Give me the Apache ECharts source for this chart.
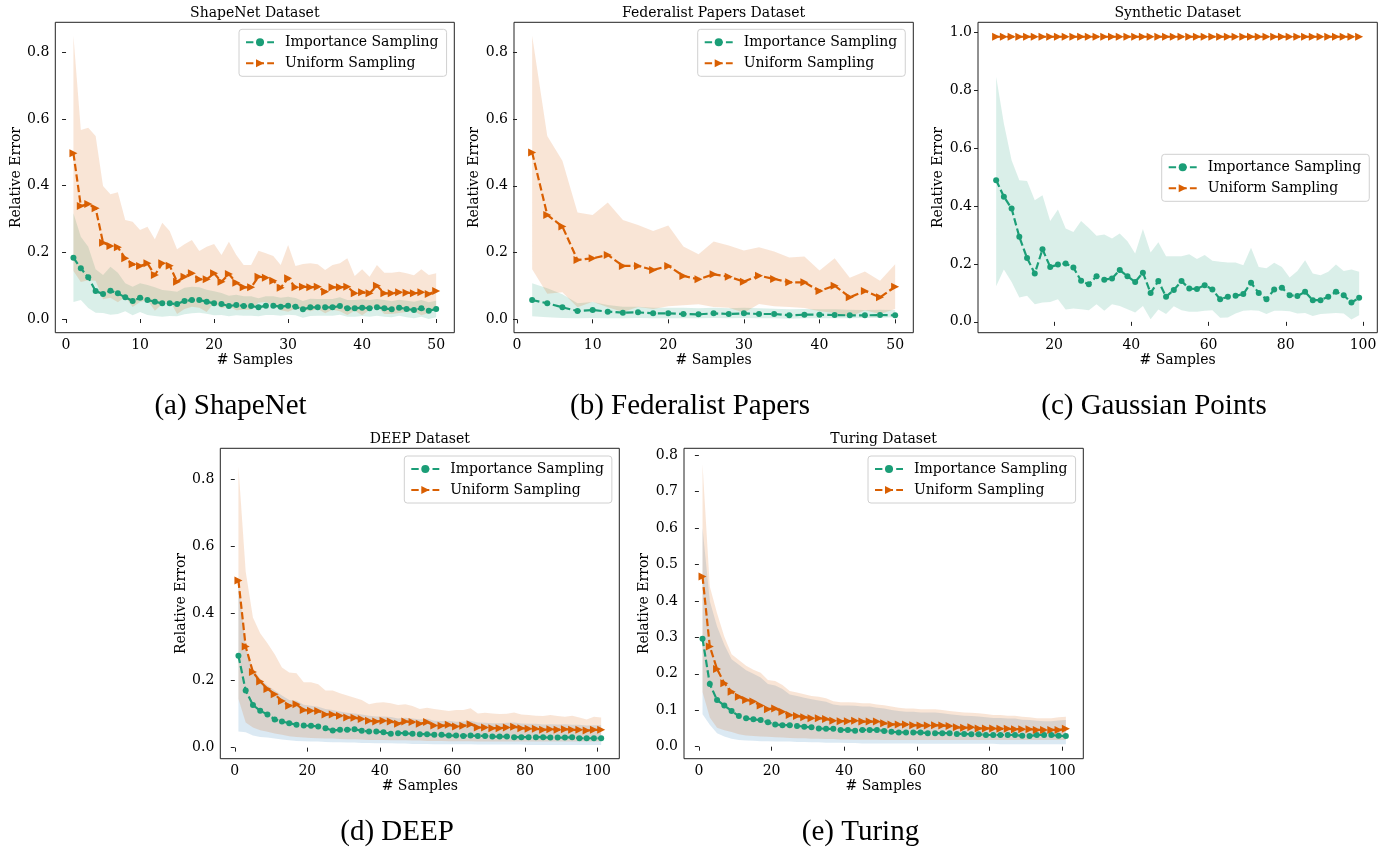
<!DOCTYPE html>
<html>
<head>
<meta charset="utf-8">
<script src="https://cdn.jsdelivr.net/npm/echarts@6/dist/echarts.min.js"></script>
<style>
html,body{margin:0;padding:0;background:#fff;}
#c{width:1392px;height:851px;}
</style>
</head>
<body>
<div id="c"></div>
<script>
// ---------------- DATA ----------------
// (a) ShapeNet
const aX = [1,2,3,4,5,6,7,8,9,10,11,12,13,14,15,16,17,18,19,20,21,22,23,24,25,26,27,28,29,30,31,32,33,34,35,36,37,38,39,40,41,42,43,44,45,46,47,48,49,50];
const aImp = [0.184,0.152,0.125,0.084,0.075,0.085,0.077,0.065,0.054,0.064,0.057,0.052,0.047,0.047,0.045,0.054,0.057,0.057,0.052,0.047,0.045,0.039,0.042,0.039,0.039,0.035,0.04,0.04,0.037,0.04,0.037,0.029,0.035,0.035,0.035,0.035,0.039,0.032,0.032,0.034,0.032,0.035,0.032,0.029,0.034,0.03,0.027,0.032,0.025,0.03];
const aImpLo = [0.051,0.057,0.033,0.019,0.018,0.013,0.015,0.023,0.011,0.021,0.012,0.009,0.007,0.009,0.008,0.014,0.017,0.019,0.016,0.011,0.012,0.008,0.011,0.01,0.01,0.008,0.012,0.012,0.01,0.013,0.011,0.004,0.009,0.01,0.01,0.01,0.013,0.007,0.007,0.009,0.007,0.01,0.007,0.005,0.01,0.005,0.002,0.007,0.0,0.005];
const aImpHi = [0.317,0.247,0.217,0.149,0.132,0.157,0.139,0.107,0.097,0.107,0.102,0.095,0.087,0.085,0.082,0.094,0.097,0.095,0.088,0.083,0.078,0.07,0.073,0.068,0.068,0.062,0.068,0.068,0.064,0.067,0.063,0.054,0.061,0.06,0.06,0.06,0.065,0.057,0.057,0.059,0.057,0.06,0.057,0.053,0.058,0.055,0.052,0.057,0.05,0.055];
const aUni = [0.497,0.339,0.345,0.332,0.229,0.219,0.215,0.182,0.164,0.159,0.167,0.132,0.167,0.16,0.112,0.127,0.137,0.119,0.119,0.137,0.112,0.135,0.109,0.095,0.095,0.127,0.124,0.115,0.094,0.122,0.095,0.097,0.095,0.097,0.082,0.095,0.095,0.097,0.077,0.08,0.077,0.1,0.077,0.077,0.08,0.079,0.077,0.08,0.075,0.084];
const aUniLo = [0.144,0.111,0.116,0.115,0.059,0.064,0.05,0.067,0.036,0.051,0.057,0.025,0.045,0.056,0.015,0.03,0.037,0.034,0.021,0.049,0.032,0.038,0.026,0.028,0.028,0.049,0.051,0.041,0.026,0.022,0.031,0.029,0.023,0.03,0.017,0.028,0.023,0.012,0.025,0.011,0.027,0.038,0.015,0.015,0.018,0.021,0.023,0.011,0.018,0.031];
const aUniHi = [0.85,0.567,0.574,0.549,0.399,0.374,0.38,0.297,0.292,0.267,0.277,0.239,0.289,0.264,0.209,0.224,0.237,0.204,0.217,0.225,0.192,0.232,0.192,0.162,0.162,0.205,0.197,0.189,0.162,0.222,0.159,0.165,0.167,0.164,0.147,0.162,0.167,0.182,0.129,0.149,0.127,0.162,0.139,0.139,0.142,0.137,0.131,0.149,0.132,0.137];

// (b) Federalist Papers
const bX = [2,4,6,8,10,12,14,16,18,20,22,24,26,28,30,32,34,36,38,40,42,44,46,48,50];
const bImp = [0.058,0.048,0.036,0.025,0.028,0.023,0.02,0.021,0.018,0.018,0.016,0.015,0.018,0.016,0.018,0.016,0.016,0.012,0.014,0.014,0.013,0.012,0.012,0.013,0.012];
const bImpLo = [0.009,0.006,0.004,0.003,0.004,0.003,0.003,0.004,0.003,0.003,0.003,0.003,0.004,0.003,0.004,0.003,0.003,0.002,0.003,0.003,0.003,0.003,0.004,0.005,0.006];
const bImpHi = [0.108,0.093,0.075,0.048,0.052,0.043,0.038,0.038,0.035,0.035,0.035,0.033,0.035,0.033,0.035,0.033,0.032,0.03,0.031,0.03,0.03,0.029,0.028,0.029,0.028];
const bUni = [0.5,0.313,0.278,0.178,0.183,0.193,0.16,0.16,0.148,0.16,0.13,0.12,0.135,0.128,0.113,0.131,0.121,0.111,0.111,0.085,0.101,0.066,0.085,0.066,0.098];
const bUniLo = [0.15,0.077,0.081,0.036,0.053,0.036,0.022,0.037,0.031,0.039,0.042,0.045,0.037,0.035,0.02,0.046,0.039,0.037,0.034,0.024,0.019,0.007,0.027,0.016,0.031];
const bUniHi = [0.85,0.549,0.475,0.32,0.313,0.35,0.298,0.283,0.265,0.281,0.218,0.195,0.233,0.221,0.206,0.216,0.203,0.185,0.188,0.146,0.183,0.125,0.143,0.116,0.165];

// (c) Synthetic / Gaussian Points
const cX = [5,7,9,11,13,15,17,19,21,23,25,27,29,31,33,35,37,39,41,43,45,47,49,51,53,55,57,59,61,63,65,67,69,71,73,75,77,79,81,83,85,87,89,91,93,95,97,99];
const cImp = [0.49,0.433,0.392,0.294,0.221,0.167,0.251,0.19,0.198,0.202,0.188,0.142,0.13,0.158,0.146,0.15,0.179,0.158,0.138,0.17,0.1,0.141,0.087,0.11,0.141,0.115,0.114,0.127,0.112,0.078,0.087,0.09,0.096,0.135,0.1,0.078,0.112,0.118,0.092,0.089,0.104,0.075,0.075,0.087,0.104,0.092,0.067,0.083];
const cImpLo = [0.123,0.181,0.138,0.084,0.09,0.061,0.067,0.069,0.078,0.043,0.046,0.044,0.04,0.061,0.038,0.061,0.055,0.044,0.032,0.055,0.009,0.043,0.027,0.054,0.04,0.035,0.035,0.038,0.04,0.014,0.015,0.029,0.038,0.04,0.038,0.027,0.038,0.038,0.037,0.029,0.031,0.02,0.027,0.029,0.031,0.029,0.008,0.023];
const cImpHi = [0.848,0.686,0.559,0.49,0.487,0.421,0.438,0.349,0.389,0.323,0.311,0.349,0.325,0.298,0.302,0.288,0.306,0.279,0.236,0.321,0.24,0.275,0.227,0.227,0.227,0.234,0.217,0.231,0.211,0.208,0.205,0.205,0.196,0.256,0.19,0.185,0.204,0.19,0.153,0.176,0.213,0.167,0.161,0.173,0.198,0.176,0.181,0.173];
const cUni = [0.986,0.986,0.986,0.986,0.986,0.986,0.986,0.986,0.986,0.986,0.986,0.986,0.986,0.986,0.986,0.986,0.986,0.986,0.986,0.986,0.986,0.986,0.986,0.986,0.986,0.986,0.986,0.986,0.986,0.986,0.986,0.986,0.986,0.986,0.986,0.986,0.986,0.986,0.986,0.986,0.986,0.986,0.986,0.986,0.986,0.986,0.986,0.986];

// (d) DEEP
const dX = [1,3,5,7,9,11,13,15,17,19,21,23,25,27,29,31,33,35,37,39,41,43,45,47,49,51,53,55,57,59,61,63,65,67,69,71,73,75,77,79,81,83,85,87,89,91,93,95,97,99,101];
const dImp = [0.274,0.17,0.127,0.11,0.099,0.084,0.078,0.073,0.068,0.066,0.065,0.063,0.058,0.051,0.053,0.053,0.055,0.05,0.048,0.048,0.046,0.041,0.043,0.043,0.041,0.04,0.04,0.038,0.038,0.036,0.036,0.035,0.036,0.035,0.035,0.033,0.033,0.033,0.031,0.031,0.031,0.031,0.031,0.03,0.03,0.03,0.031,0.028,0.028,0.028,0.028];
const dImpLo = [0.048,0.046,0.036,0.032,0.03,0.027,0.024,0.022,0.02,0.019,0.018,0.018,0.017,0.016,0.016,0.015,0.015,0.014,0.014,0.013,0.013,0.013,0.012,0.012,0.011,0.011,0.011,0.01,0.01,0.01,0.01,0.01,0.01,0.009,0.009,0.009,0.009,0.009,0.009,0.009,0.008,0.008,0.008,0.008,0.008,0.008,0.008,0.008,0.008,0.008,0.008];
const dImpHi = [0.5,0.3,0.235,0.205,0.185,0.17,0.155,0.142,0.14,0.128,0.125,0.122,0.115,0.112,0.108,0.104,0.102,0.099,0.095,0.093,0.093,0.091,0.087,0.089,0.087,0.084,0.086,0.08,0.079,0.08,0.077,0.078,0.08,0.075,0.074,0.073,0.073,0.074,0.075,0.072,0.071,0.071,0.069,0.07,0.069,0.07,0.068,0.068,0.066,0.067,0.067];
const dUni = [0.498,0.301,0.225,0.197,0.175,0.159,0.139,0.125,0.129,0.112,0.11,0.109,0.099,0.099,0.095,0.09,0.089,0.085,0.08,0.078,0.08,0.078,0.071,0.078,0.076,0.071,0.076,0.066,0.065,0.068,0.063,0.065,0.07,0.06,0.06,0.058,0.058,0.06,0.062,0.058,0.056,0.056,0.053,0.055,0.053,0.055,0.053,0.053,0.051,0.053,0.053];
const dUniLo = [0.145,0.075,0.06,0.052,0.047,0.042,0.038,0.034,0.032,0.03,0.029,0.028,0.027,0.027,0.026,0.025,0.025,0.024,0.023,0.023,0.023,0.022,0.022,0.022,0.021,0.021,0.02,0.02,0.02,0.019,0.019,0.019,0.019,0.018,0.018,0.018,0.018,0.018,0.018,0.018,0.018,0.018,0.018,0.018,0.018,0.018,0.018,0.018,0.018,0.018,0.018];
const dUniHi = [0.838,0.525,0.388,0.341,0.311,0.278,0.239,0.224,0.222,0.195,0.195,0.189,0.17,0.17,0.162,0.155,0.149,0.142,0.129,0.134,0.135,0.132,0.127,0.129,0.124,0.115,0.119,0.115,0.112,0.109,0.112,0.112,0.117,0.102,0.104,0.102,0.1,0.101,0.105,0.099,0.097,0.095,0.094,0.097,0.094,0.092,0.095,0.09,0.084,0.092,0.09];

// (e) Turing
const eX = [1,3,5,7,9,11,13,15,17,19,21,23,25,27,29,31,33,35,37,39,41,43,45,47,49,51,53,55,57,59,61,63,65,67,69,71,73,75,77,79,81,83,85,87,89,91,93,95,97,99,101];
const eImp = [0.296,0.172,0.128,0.113,0.098,0.084,0.078,0.075,0.073,0.067,0.061,0.059,0.059,0.057,0.055,0.053,0.05,0.049,0.049,0.046,0.046,0.044,0.046,0.046,0.046,0.043,0.041,0.039,0.039,0.039,0.039,0.037,0.037,0.037,0.037,0.035,0.035,0.034,0.034,0.032,0.032,0.032,0.032,0.032,0.03,0.029,0.032,0.032,0.032,0.03,0.029];
const eImpLo = [0.089,0.06,0.037,0.028,0.022,0.018,0.017,0.016,0.015,0.015,0.014,0.014,0.014,0.013,0.013,0.012,0.012,0.011,0.011,0.011,0.01,0.01,0.009,0.009,0.009,0.009,0.009,0.009,0.009,0.009,0.008,0.008,0.008,0.008,0.008,0.008,0.008,0.008,0.008,0.008,0.008,0.007,0.007,0.007,0.007,0.007,0.007,0.007,0.007,0.007,0.007];
const eImpHi = [0.6,0.4,0.33,0.28,0.24,0.225,0.21,0.2,0.19,0.172,0.168,0.158,0.143,0.139,0.134,0.13,0.127,0.123,0.116,0.113,0.113,0.112,0.11,0.11,0.107,0.105,0.101,0.098,0.096,0.096,0.094,0.094,0.094,0.092,0.089,0.087,0.085,0.084,0.083,0.081,0.079,0.079,0.077,0.077,0.074,0.073,0.071,0.07,0.07,0.072,0.073];
const eUni = [0.467,0.275,0.213,0.174,0.151,0.137,0.128,0.124,0.113,0.103,0.105,0.096,0.087,0.084,0.081,0.078,0.078,0.076,0.071,0.07,0.07,0.071,0.069,0.069,0.069,0.064,0.061,0.061,0.061,0.059,0.058,0.058,0.059,0.058,0.057,0.053,0.052,0.053,0.05,0.05,0.05,0.049,0.049,0.048,0.048,0.048,0.046,0.046,0.046,0.046,0.049];
const eUniLo = [0.15,0.08,0.052,0.045,0.04,0.034,0.031,0.029,0.028,0.027,0.026,0.025,0.024,0.023,0.023,0.022,0.022,0.021,0.021,0.02,0.02,0.019,0.019,0.019,0.019,0.018,0.018,0.018,0.018,0.018,0.018,0.018,0.018,0.018,0.018,0.018,0.018,0.018,0.018,0.018,0.018,0.018,0.018,0.018,0.018,0.018,0.018,0.018,0.018,0.018,0.018];
const eUniHi = [0.775,0.44,0.366,0.302,0.254,0.238,0.222,0.211,0.203,0.183,0.18,0.169,0.153,0.149,0.144,0.139,0.137,0.133,0.125,0.122,0.122,0.121,0.119,0.119,0.116,0.114,0.11,0.107,0.105,0.105,0.103,0.103,0.103,0.101,0.098,0.096,0.094,0.093,0.092,0.09,0.087,0.087,0.085,0.085,0.082,0.081,0.078,0.078,0.078,0.081,0.082];

// tick labels
const xTicks50 = [0,10,20,30,40,50];
const xTicks100 = [0,20,40,60,80,100];
const xTicksC = [20,40,60,80,100];
const yTicks08 = [0.0,0.2,0.4,0.6,0.8];
const yTicks10 = [0.0,0.2,0.4,0.6,0.8,1.0];
const yTicksE = [0.0,0.1,0.2,0.3,0.4,0.5,0.6,0.7,0.8];

const titles = ['ShapeNet Dataset','Federalist Papers Dataset','Synthetic Dataset','DEEP Dataset','Turing Dataset'];
const captions = ['(a) ShapeNet','(b) Federalist Papers','(c) Gaussian Points','(d) DEEP','(e) Turing'];
const seriesNames = ['Importance Sampling','Uniform Sampling'];
const xName = '# Samples';
const yName = 'Relative Error';

// ---------------- LAYOUT / STYLE ----------------
const GREEN = '#1b9e77', ORANGE = '#d95f02', BLUE = '#1f77b4';
const FONT = 'DejaVu Serif';
const CAPFONT = 'Liberation Serif';

const panels = [
  {x:aX, imp:aImp, impLo:aImpLo, impHi:aImpHi, uni:aUni, uniLo:aUniLo, uniHi:aUniHi, impFill:GREEN,
   grid:{left:55.3, top:22.3, w:399, h:310.4}, xr:[-1.45,52.45], yr:[-0.041,0.89], xt:xTicks50, yt:yTicks08,
   leg:{left:239, top:29.3}, cap:[230.5,406]},
  {x:bX, imp:bImp, impLo:bImpLo, impHi:bImpHi, uni:bUni, uniLo:bUniLo, uniHi:bUniHi, impFill:GREEN,
   grid:{left:514, top:22.3, w:399.3, h:310.4}, xr:[-0.4,52.4], yr:[-0.04,0.89], xt:xTicks50, yt:yTicks08,
   leg:{left:697.7, top:29.3}, cap:[690,406]},
  {x:cX, imp:cImp, impLo:cImpLo, impHi:cImpHi, uni:cUni, uniLo:null, uniHi:null, impFill:GREEN,
   grid:{left:978, top:22.3, w:399.3, h:310.4}, xr:[0.3,103.7], yr:[-0.0375,1.036], xt:xTicksC, yt:yTicks10,
   leg:{left:1161.7, top:154.3}, cap:[1154,406]},
  {x:dX, imp:dImp, impLo:dImpLo, impHi:dImpHi, uni:dUni, uniLo:dUniLo, uniHi:dUniHi, impFill:BLUE,
   grid:{left:220.3, top:448.3, w:399, h:310.4}, xr:[-4,106], yr:[-0.033,0.892], xt:xTicks100, yt:yTicks08,
   leg:{left:404.3, top:456}, cap:[397,832]},
  {x:eX, imp:eImp, impLo:eImpLo, impHi:eImpHi, uni:eUni, uniLo:eUniLo, uniHi:eUniHi, impFill:BLUE,
   grid:{left:684, top:448.3, w:399.3, h:310.4}, xr:[-4.1,105.8], yr:[-0.033,0.819], xt:xTicks100, yt:yTicksE,
   leg:{left:868, top:456}, cap:[860.5,832]}
];

const grids = [], xAxes = [], yAxes = [], series = [], legends = [], graphics = [];

panels.forEach((p, i) => {
  grids.push({left:p.grid.left, top:p.grid.top, width:p.grid.w, height:p.grid.h,
    show:true, borderColor:'#222', borderWidth:1, backgroundColor:'transparent', containLabel:false});
  xAxes.push({type:'value', gridIndex:i, min:p.xr[0], max:p.xr[1],
    name:xName, nameLocation:'middle', nameGap:21,
    nameTextStyle:{fontFamily:FONT, fontSize:14, color:'#000'},
    axisLine:{show:false}, splitLine:{show:false},
    axisTick:{show:true, inside:false, length:4, lineStyle:{color:'#222'}, customValues:p.xt},
    axisLabel:{fontFamily:FONT, fontSize:14, color:'#000', margin:6, customValues:p.xt,
      formatter:v => String(Math.round(v))}});
  yAxes.push({type:'value', gridIndex:i, min:p.yr[0], max:p.yr[1],
    name:yName, nameLocation:'middle', nameGap:29, nameRotate:90,
    nameTextStyle:{fontFamily:FONT, fontSize:14, color:'#000'},
    axisLine:{show:false}, splitLine:{show:false},
    axisTick:{show:true, inside:false, length:4, lineStyle:{color:'#222'}, customValues:p.yt},
    axisLabel:{fontFamily:FONT, fontSize:14, color:'#000', margin:6, customValues:p.yt,
      formatter:v => v.toFixed(1)}});

  // shaded band: polygon through the library's coordinate system
  const band = (lo, hi, color, z) => {
    series.push({type:'custom', xAxisIndex:i, yAxisIndex:i, silent:true, z:z,
      data:[[p.x[0], lo[0]]],
      renderItem:(params, api) => {
        const pts = [];
        for (let k = 0; k < p.x.length; k++) pts.push(api.coord([p.x[k], hi[k]]));
        for (let k = p.x.length - 1; k >= 0; k--) pts.push(api.coord([p.x[k], lo[k]]));
        const cs = params.coordSys;
        return {type:'polygon', shape:{points:pts},
          clipPath:{type:'rect', shape:{x:cs.x, y:cs.y, width:cs.width, height:cs.height}},
          style:{fill:color, opacity:0.16}};
      }});
  };
  band(p.impLo, p.impHi, p.impFill, 1);
  if (p.uniLo) band(p.uniLo, p.uniHi, ORANGE, 2);

  series.push({type:'line', name:seriesNames[0], xAxisIndex:i, yAxisIndex:i,
    data:p.x.map((x,k)=>[x, p.imp[k]]), symbol:'circle', symbolSize:6,
    itemStyle:{color:GREEN}, lineStyle:{color:GREEN, width:2.2, type:[7.4,3.2]}, z:5});
  series.push({type:'line', name:seriesNames[1], xAxisIndex:i, yAxisIndex:i,
    data:p.x.map((x,k)=>[x, p.uni[k]]), symbol:'triangle', symbolRotate:-90, symbolSize:8,
    itemStyle:{color:ORANGE}, lineStyle:{color:ORANGE, width:2.2, type:[7.4,3.2]}, z:6});

  legends.push({data:seriesNames, orient:'vertical', left:p.leg.left, top:p.leg.top,
    itemWidth:28, itemHeight:10, itemGap:7, padding:[6,8,6,6],
    borderColor:'#d0d0d0', borderWidth:1, borderRadius:3, backgroundColor:'rgba(255,255,255,0.85)',
    selectedMode:false,
    textStyle:{fontFamily:FONT, fontSize:14, color:'#000', padding:[0,0,0,6]}});

  graphics.push({type:'text', x:p.grid.left + p.grid.w/2, y:p.grid.top - 9,
    style:{text:titles[i], font:'14px "' + FONT + '"', fill:'#000', align:'center', verticalAlign:'middle',
      textAlign:'center', textVerticalAlign:'middle'}});
  graphics.push({type:'text', x:p.cap[0], y:p.cap[1],
    style:{text:captions[i], font:'29px "' + CAPFONT + '"', fill:'#000', align:'center', verticalAlign:'middle',
      textAlign:'center', textVerticalAlign:'middle'}});
});

const chart = echarts.init(document.getElementById('c'), null, {renderer:'canvas', width:1392, height:851});
chart.setOption({
  animation:false,
  backgroundColor:'#fff',
  grid:grids, xAxis:xAxes, yAxis:yAxes, series:series, legend:legends, graphic:graphics
});
</script>
</body>
</html>
